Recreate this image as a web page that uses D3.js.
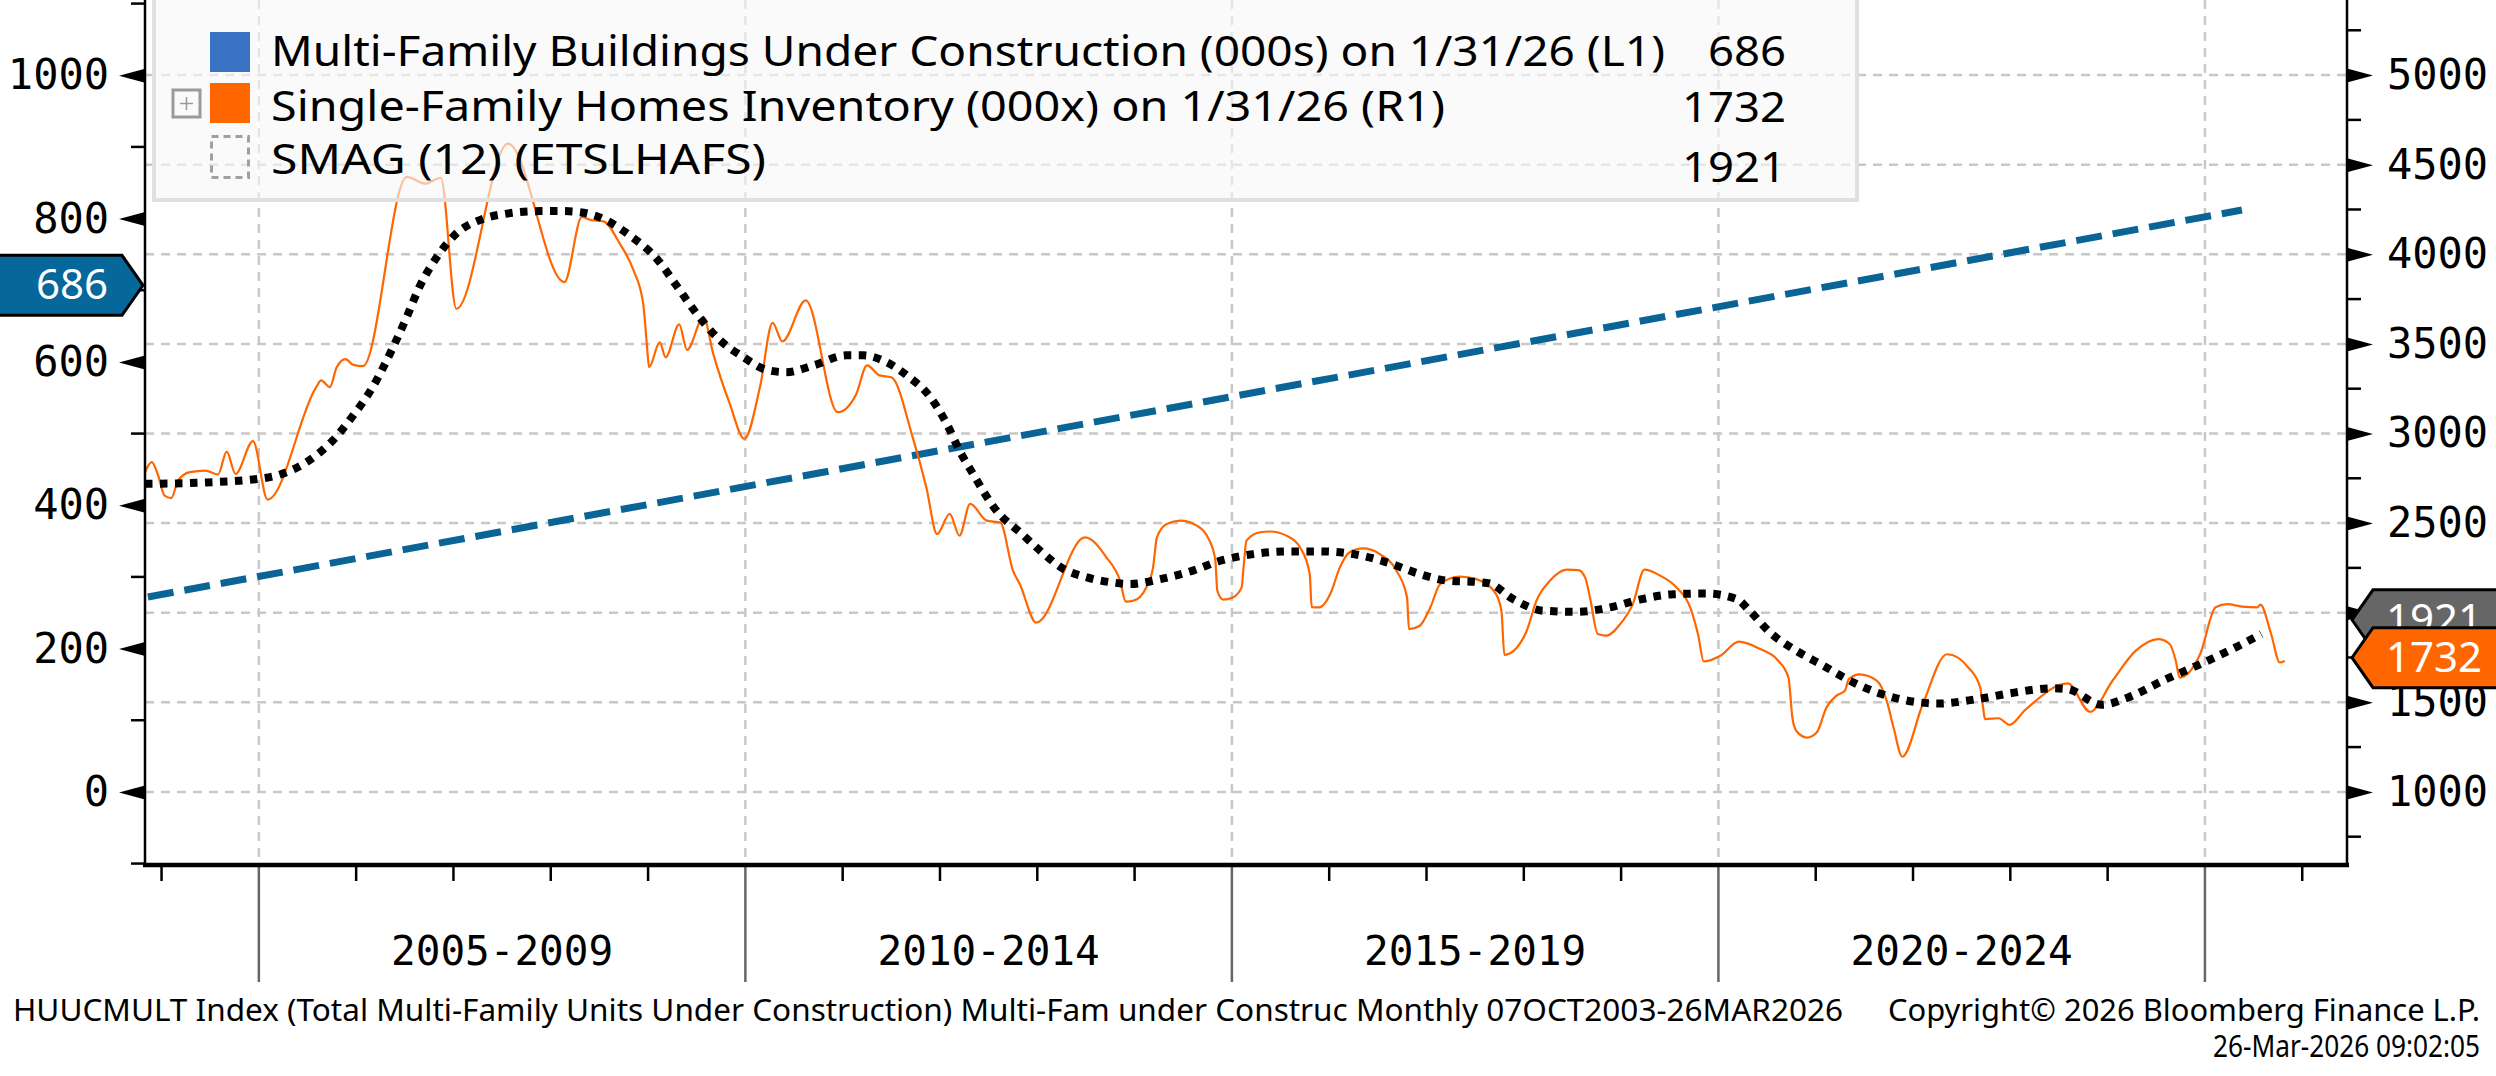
<!DOCTYPE html>
<html>
<head>
<meta charset="utf-8">
<script src="https://cdn.jsdelivr.net/npm/d3@7"></script>
<style>
  body { margin: 0; background: #fff; }
  svg { display: block; }
  .mono { font-family: "DejaVu Sans Mono", "Liberation Mono", monospace; }
  .sans { font-family: "Liberation Sans Narrow", "Noto Sans", "Roboto", sans-serif; }
</style>
</head>
<body>
<svg id="chart"></svg>
<script>
var width = 2496,
  height = 1076;

// Single-family homes inventory (R1), decimal year / value
const sfYears = [2003.83, 2003.90, 2003.96, 2004.03, 2004.10, 2004.17, 2004.29, 2004.45, 2004.58, 2004.67,
  2004.76, 2004.94, 2005.09, 2005.59, 2005.64, 2005.73, 2005.80, 2005.89, 2005.97, 2006.07,
  2006.52, 2006.71, 2006.87, 2007.03, 2007.56, 2008.14, 2008.32, 2008.42, 2008.54, 2008.71,
  2008.85, 2008.95, 2008.99, 2009.01, 2009.12, 2009.18, 2009.32, 2009.40, 2009.57, 2009.67,
  2009.84, 2009.99, 2010.15, 2010.28, 2010.38, 2010.62, 2010.95, 2011.14, 2011.25, 2011.38,
  2011.50, 2011.72, 2011.86, 2011.97, 2012.10, 2012.20, 2012.31, 2012.48, 2012.62, 2012.75,
  2012.82, 2012.99, 2013.49, 2013.71, 2013.85, 2013.91, 2013.99, 2014.12, 2014.19, 2014.23,
  2014.33, 2014.47, 2014.64, 2014.77, 2014.83, 2014.85, 2014.91, 2015.01, 2015.10, 2015.12,
  2015.15, 2015.29, 2015.39, 2015.56, 2015.70, 2015.80, 2015.82, 2015.90, 2016.01, 2016.11,
  2016.21, 2016.35, 2016.52, 2016.69, 2016.80, 2016.82, 2016.93, 2017.04, 2017.14, 2017.34,
  2017.51, 2017.69, 2017.77, 2017.80, 2017.93, 2018.03, 2018.13, 2018.27, 2018.44, 2018.56,
  2018.63, 2018.68, 2018.76, 2018.85, 2018.99, 2019.12, 2019.24, 2019.40, 2019.57, 2019.71,
  2019.79, 2019.85, 2020.02, 2020.21, 2020.43, 2020.60, 2020.72, 2020.76, 2020.80, 2020.91,
  2021.01, 2021.11, 2021.21, 2021.30, 2021.34, 2021.45, 2021.63, 2021.73, 2021.80, 2021.89,
  2022.10, 2022.35, 2022.57, 2022.69, 2022.72, 2022.74, 2022.88, 2022.99, 2023.16, 2023.59,
  2023.82, 2024.05, 2024.29, 2024.52, 2024.64, 2024.70, 2024.74, 2024.95, 2025.11, 2025.23,
  2025.38, 2025.54, 2025.57, 2025.68, 2025.77, 2025.82];
const sfValues = [2784, 2840, 2774, 2654, 2639, 2737, 2784, 2793, 2771, 2899,
  2774, 2957, 2631, 3259, 3296, 3259, 3370, 3415, 3383, 3376,
  4432, 4394, 4427, 3696, 4618, 3845, 4208, 4190, 4184, 4059,
  3911, 3724, 3482, 3370, 3509, 3425, 3609, 3467, 3649, 3444,
  3165, 2970, 3259, 3617, 3514, 3743, 3119, 3221, 3380, 3324,
  3314, 2978, 2699, 2439, 2551, 2430, 2607, 2514, 2503, 2235,
  2160, 1945, 2420, 2309, 2179, 2062, 2067, 2141, 2253, 2421,
  2495, 2514, 2486, 2402, 2291, 2123, 2073, 2085, 2141, 2253,
  2402, 2449, 2453, 2430, 2365, 2216, 2031, 2030, 2103, 2253,
  2337, 2359, 2327, 2235, 2085, 1908, 1927, 2030, 2160, 2201,
  2187, 2123, 2011, 1765, 1806, 1899, 2067, 2179, 2240, 2238,
  2197, 2085, 1881, 1872, 1936, 2048, 2240, 2207, 2141, 2030,
  1880, 1728, 1760, 1838, 1797, 1740, 1638, 1415, 1341, 1303,
  1331, 1471, 1536, 1564, 1629, 1656, 1620, 1508, 1359, 1196,
  1489, 1768, 1693, 1583, 1471, 1406, 1411, 1374, 1461, 1605,
  1447, 1620, 1788, 1853, 1824, 1732, 1638, 1768, 2030, 2048,
  2034, 2030, 2045, 1881, 1722, 1731];

// SMAG (12) of the inventory series (R1)
const smagYears = [2003.83, 2004.46, 2004.98, 2005.22, 2005.49, 2005.76, 2005.97, 2006.17, 2006.38, 2006.52,
  2006.65, 2006.83, 2007.01, 2007.31, 2007.55, 2007.89, 2008.13, 2008.30, 2008.57, 2008.81,
  2009.09, 2009.29, 2009.50, 2009.74, 2009.98, 2010.22, 2010.42, 2010.70, 2011.04, 2011.21,
  2011.45, 2011.66, 2011.90, 2012.07, 2012.20, 2012.34, 2012.58, 2012.84, 2013.03, 2013.27,
  2013.51, 2013.78, 2013.95, 2014.26, 2014.60, 2014.88, 2015.22, 2015.56, 2015.90, 2016.25,
  2016.59, 2016.93, 2017.21, 2017.55, 2017.65, 2017.89, 2018.20, 2018.54, 2018.89, 2019.19,
  2019.54, 2019.88, 2020.19, 2020.32, 2020.53, 2020.80, 2021.08, 2021.39, 2021.66, 2022.07,
  2022.26, 2022.65, 2023.04, 2023.43, 2023.59, 2023.94, 2024.21, 2024.60, 2024.99, 2025.38,
  2025.58];
const smagValues = [2719, 2727, 2746, 2771, 2840, 2961, 3101, 3259, 3482, 3650,
  3817, 3985, 4106, 4199, 4227, 4241, 4241, 4235, 4190, 4106,
  3975, 3827, 3668, 3520, 3426, 3355, 3342, 3380, 3436, 3436,
  3398, 3324, 3203, 3054, 2905, 2774, 2570, 2440, 2346, 2244,
  2197, 2168, 2160, 2187, 2235, 2290, 2327, 2342, 2342, 2327,
  2281, 2216, 2179, 2170, 2163, 2076, 2011, 2005, 2030, 2073,
  2103, 2107, 2076, 2011, 1890, 1788, 1704, 1610, 1549, 1499,
  1493, 1517, 1554, 1578, 1573, 1486, 1527, 1629, 1722, 1824,
  1881];

// Multi-family buildings under construction (L1) - drawn as a straight dashed line
const mfYears = [2003.86, 2025.38];
const mfValues = [272, 812];

const leftTicks = [0, 200, 400, 600, 800, 1000];
const leftMinor = [-100, 100, 300, 500, 700, 900, 1100];
const rightTicks = [1000, 1500, 2000, 2500, 3000, 3500, 4000, 4500, 5000];
const rightMinor = [750, 1250, 1750, 2250, 2750, 3250, 3750, 4250, 4750, 5250];
const yearTicks = [2004, 2006, 2007, 2008, 2009, 2011, 2012, 2013, 2014, 2016, 2017, 2018, 2019,
  2021, 2022, 2023, 2024, 2026];
const periodBreaks = [2005, 2010, 2015, 2020, 2025];
const periodLabels = ['2005-2009', '2010-2014', '2015-2019', '2020-2024'];

const legendNames = ['Multi-Family Buildings Under Construction (000s) on 1/31/26 (L1)',
  'Single-Family Homes Inventory (000x) on 1/31/26 (R1)',
  'SMAG (12) (ETSLHAFS)'];
const legendValues = ['686', '1732', '1921'];
const lastMf = 686, lastSf = 1732, lastSmag = 1921;

const blue_color = '#0a6496';
const orange_color = '#ff6600';
const grid_color = '#c8c8c8';

var svg = d3.select('#chart')
  .attr('width', width)
  .attr('height', height);

var plot = {left: 145, right: 2347, top: 0, bottom: 865};

var x = d3.scaleLinear().domain([2003.83, 2026.46]).range([plot.left, plot.right]);
var yL = d3.scaleLinear().domain([-102, 1105]).range([plot.bottom, plot.top]);
var yR = d3.scaleLinear().domain([592, 5419]).range([plot.bottom, plot.top]);

// grid
var grid = svg.append('g')
  .attr('stroke', grid_color)
  .attr('stroke-width', 2.5)
  .attr('stroke-dasharray', '9,7');

grid.selectAll('.hgrid')
  .data(rightTicks)
  .join('line')
  .attr('x1', plot.left)
  .attr('x2', plot.right)
  .attr('y1', d => yR(d))
  .attr('y2', d => yR(d));

grid.selectAll('.vgrid')
  .data(periodBreaks)
  .join('line')
  .attr('x1', d => x(d))
  .attr('x2', d => x(d))
  .attr('y1', plot.top)
  .attr('y2', plot.bottom);

// series
var lines = svg.append('g').attr('fill', 'none');

lines.append('path')
  .datum(mfYears.map((t, i) => [t, mfValues[i]]))
  .attr('stroke', blue_color)
  .attr('stroke-width', 7)
  .attr('stroke-dasharray', '26,11')
  .attr('d', d3.line().x(d => x(d[0])).y(d => yL(d[1])));

lines.append('path')
  .datum(sfYears.map((t, i) => [t, sfValues[i]]))
  .attr('stroke', orange_color)
  .attr('stroke-width', 2.2)
  .attr('stroke-linejoin', 'round')
  .attr('d', d3.line().curve(d3.curveMonotoneX).x(d => x(d[0])).y(d => yR(d[1])));

lines.append('path')
  .datum(smagYears.map((t, i) => [t, smagValues[i]]))
  .attr('stroke', '#000')
  .attr('stroke-width', 8)
  .attr('stroke-dasharray', '7.5,7.5')
  .attr('d', d3.line().curve(d3.curveMonotoneX).x(d => x(d[0])).y(d => yR(d[1])));

// legend (semi transparent box over the plot)
var legend = svg.append('g');

legend.append('rect')
  .attr('x', 154)
  .attr('y', -4)
  .attr('width', 1703)
  .attr('height', 204)
  .attr('fill', '#f7f7f7')
  .attr('fill-opacity', 0.62)
  .attr('stroke', '#e0e0e0')
  .attr('stroke-width', 4);

legend.append('rect')
  .attr('x', 210).attr('y', 32).attr('width', 40).attr('height', 40)
  .attr('fill', '#3a72c4');
legend.append('rect')
  .attr('x', 210).attr('y', 83).attr('width', 40).attr('height', 40)
  .attr('fill', orange_color);
legend.append('rect')
  .attr('x', 211.5).attr('y', 136.5).attr('width', 37).attr('height', 41)
  .attr('fill', 'none')
  .attr('stroke', '#a0a0a0')
  .attr('stroke-width', 3)
  .attr('stroke-dasharray', '7,5');

// little "+" box
legend.append('rect')
  .attr('x', 173).attr('y', 90).attr('width', 27).attr('height', 27)
  .attr('fill', 'none')
  .attr('stroke', '#9a9a9a')
  .attr('stroke-width', 3);
legend.append('path')
  .attr('d', 'M180,103.5H193M186.5,97V110')
  .attr('stroke', '#9a9a9a')
  .attr('stroke-width', 1.5);

var legendBase = [66, 121, 174];
var legendWidth = [1394, 1174, 495];
var valueBase = [66, 122, 182];

legend.selectAll('.lname')
  .data(legendNames)
  .join('text')
  .attr('class', 'sans')
  .attr('x', 271)
  .attr('y', (d, i) => legendBase[i])
  .attr('font-size', 42)
  .attr('textLength', (d, i) => legendWidth[i])
  .attr('lengthAdjust', 'spacingAndGlyphs')
  .text(d => d);

legend.selectAll('.lval')
  .data(legendValues)
  .join('text')
  .attr('class', 'sans')
  .attr('x', 1786)
  .attr('y', (d, i) => valueBase[i])
  .attr('font-size', 42)
  .attr('text-anchor', 'end')
  .attr('textLength', d => d.length * 26)
  .attr('lengthAdjust', 'spacingAndGlyphs')
  .text(d => d);

// left axis
var leftAxis = svg.append('g')
  .attr('class', 'mono')
  .attr('transform', 'translate(' + plot.left + ',0)')
  .call(d3.axisLeft(yL).tickValues(leftTicks).tickFormat(d3.format('d')).tickSize(0).tickPadding(36));
leftAxis.select('.domain').remove();
leftAxis.selectAll('text')
  .attr('font-size', 42)
  .attr('fill', '#000')
  .attr('font-family', '"DejaVu Sans Mono", monospace');
leftAxis.selectAll('.tick')
  .append('path')
  .attr('d', 'M0,-7L-26,0L0,7Z')
  .attr('fill', '#000');

svg.append('g')
  .selectAll('line')
  .data(leftMinor)
  .join('line')
  .attr('x1', plot.left - 14)
  .attr('x2', plot.left)
  .attr('y1', d => yL(d))
  .attr('y2', d => yL(d))
  .attr('stroke', '#000')
  .attr('stroke-width', 2.5);

svg.append('line')
  .attr('x1', plot.left).attr('x2', plot.left)
  .attr('y1', plot.top).attr('y2', plot.bottom)
  .attr('stroke', '#000').attr('stroke-width', 2.5);

// right axis
var rightAxis = svg.append('g')
  .attr('transform', 'translate(' + plot.right + ',0)')
  .call(d3.axisRight(yR).tickValues(rightTicks).tickFormat(d3.format('d')).tickSize(0).tickPadding(40));
rightAxis.select('.domain').remove();
rightAxis.selectAll('text')
  .attr('font-size', 42)
  .attr('fill', '#000')
  .attr('font-family', '"DejaVu Sans Mono", monospace');
rightAxis.selectAll('.tick')
  .append('path')
  .attr('d', 'M0,-7L26,0L0,7Z')
  .attr('fill', '#000');

svg.append('g')
  .selectAll('line')
  .data(rightMinor)
  .join('line')
  .attr('x1', plot.right)
  .attr('x2', plot.right + 14)
  .attr('y1', d => yR(d))
  .attr('y2', d => yR(d))
  .attr('stroke', '#000')
  .attr('stroke-width', 2.5);

svg.append('line')
  .attr('x1', plot.right).attr('x2', plot.right)
  .attr('y1', plot.top).attr('y2', plot.bottom)
  .attr('stroke', '#000').attr('stroke-width', 2.5);

// x axis
var xAxis = svg.append('g');

xAxis.selectAll('.minor')
  .data(yearTicks)
  .join('line')
  .attr('x1', d => x(d)).attr('x2', d => x(d))
  .attr('y1', plot.bottom).attr('y2', plot.bottom + 16)
  .attr('stroke', '#000')
  .attr('stroke-width', 2.5);

xAxis.selectAll('.sep')
  .data(periodBreaks)
  .join('line')
  .attr('x1', d => x(d)).attr('x2', d => x(d))
  .attr('y1', plot.bottom).attr('y2', 982)
  .attr('stroke', '#666')
  .attr('stroke-width', 2.5);

xAxis.append('line')
  .attr('x1', plot.left - 2).attr('x2', plot.right + 2)
  .attr('y1', plot.bottom).attr('y2', plot.bottom)
  .attr('stroke', '#000')
  .attr('stroke-width', 4.5);

xAxis.selectAll('.plabel')
  .data(periodLabels)
  .join('text')
  .attr('class', 'mono')
  .attr('x', (d, i) => (x(periodBreaks[i]) + x(periodBreaks[i + 1])) / 2)
  .attr('y', 965)
  .attr('font-size', 41)
  .attr('text-anchor', 'middle')
  .text(d => d);

// value tags
function tagPath(tipX, cy, dir, len) {
  // dir = 1 : arrow points right (left axis tag), -1 : arrow points left
  var h = 30, a = 21;
  if (dir === 1) {
    return 'M' + (tipX - a - len) + ',' + (cy - h) + 'H' + (tipX - a) + 'L' + tipX + ',' + cy +
      'L' + (tipX - a) + ',' + (cy + h) + 'H' + (tipX - a - len) + 'Z';
  }
  return 'M' + (tipX + a + len) + ',' + (cy - h) + 'H' + (tipX + a) + 'L' + tipX + ',' + cy +
    'L' + (tipX + a) + ',' + (cy + h) + 'H' + (tipX + a + len) + 'Z';
}

var tags = svg.append('g').attr('class', 'sans');

var mfY = yL(lastMf) - 15;
tags.append('path')
  .attr('d', tagPath(plot.left - 2, mfY, 1, 130))
  .attr('fill', '#05679a')
  .attr('stroke', '#000')
  .attr('stroke-width', 3);
tags.append('text')
  .attr('x', 72).attr('y', mfY + 14)
  .attr('font-size', 42).attr('fill', '#fff')
  .attr('text-anchor', 'middle')
  .text(lastMf);

var smagY = yR(lastSmag) - 7;
tags.append('path')
  .attr('d', tagPath(plot.right + 5, smagY, -1, 140))
  .attr('fill', '#666666')
  .attr('stroke', '#000')
  .attr('stroke-width', 3);
tags.append('text')
  .attr('x', 2434).attr('y', smagY + 14)
  .attr('font-size', 42).attr('fill', '#fff')
  .attr('text-anchor', 'middle')
  .text(lastSmag);

var sfY = yR(lastSf) - 3;
tags.append('path')
  .attr('d', tagPath(plot.right + 5, sfY, -1, 140))
  .attr('fill', orange_color)
  .attr('stroke', '#000')
  .attr('stroke-width', 3);
tags.append('text')
  .attr('x', 2434).attr('y', sfY + 14)
  .attr('font-size', 42).attr('fill', '#fff')
  .attr('text-anchor', 'middle')
  .text(lastSf);

// footer
var footer = svg.append('g').attr('class', 'sans').attr('font-size', 31);
footer.append('text')
  .attr('x', 13).attr('y', 1021)
  .attr('textLength', 1830)
  .attr('lengthAdjust', 'spacingAndGlyphs')
  .text('HUUCMULT Index (Total Multi-Family Units Under Construction) Multi-Fam under Construc Monthly 07OCT2003-26MAR2026');
footer.append('text')
  .attr('x', 2480).attr('y', 1021)
  .attr('text-anchor', 'end')
  .attr('textLength', 592)
  .attr('lengthAdjust', 'spacingAndGlyphs')
  .text('Copyright\u00a9 2026 Bloomberg Finance L.P.');
footer.append('text')
  .attr('x', 2480).attr('y', 1057)
  .attr('text-anchor', 'end')
  .attr('textLength', 267)
  .attr('lengthAdjust', 'spacingAndGlyphs')
  .text('26-Mar-2026 09:02:05');
</script>
</body>
</html>
